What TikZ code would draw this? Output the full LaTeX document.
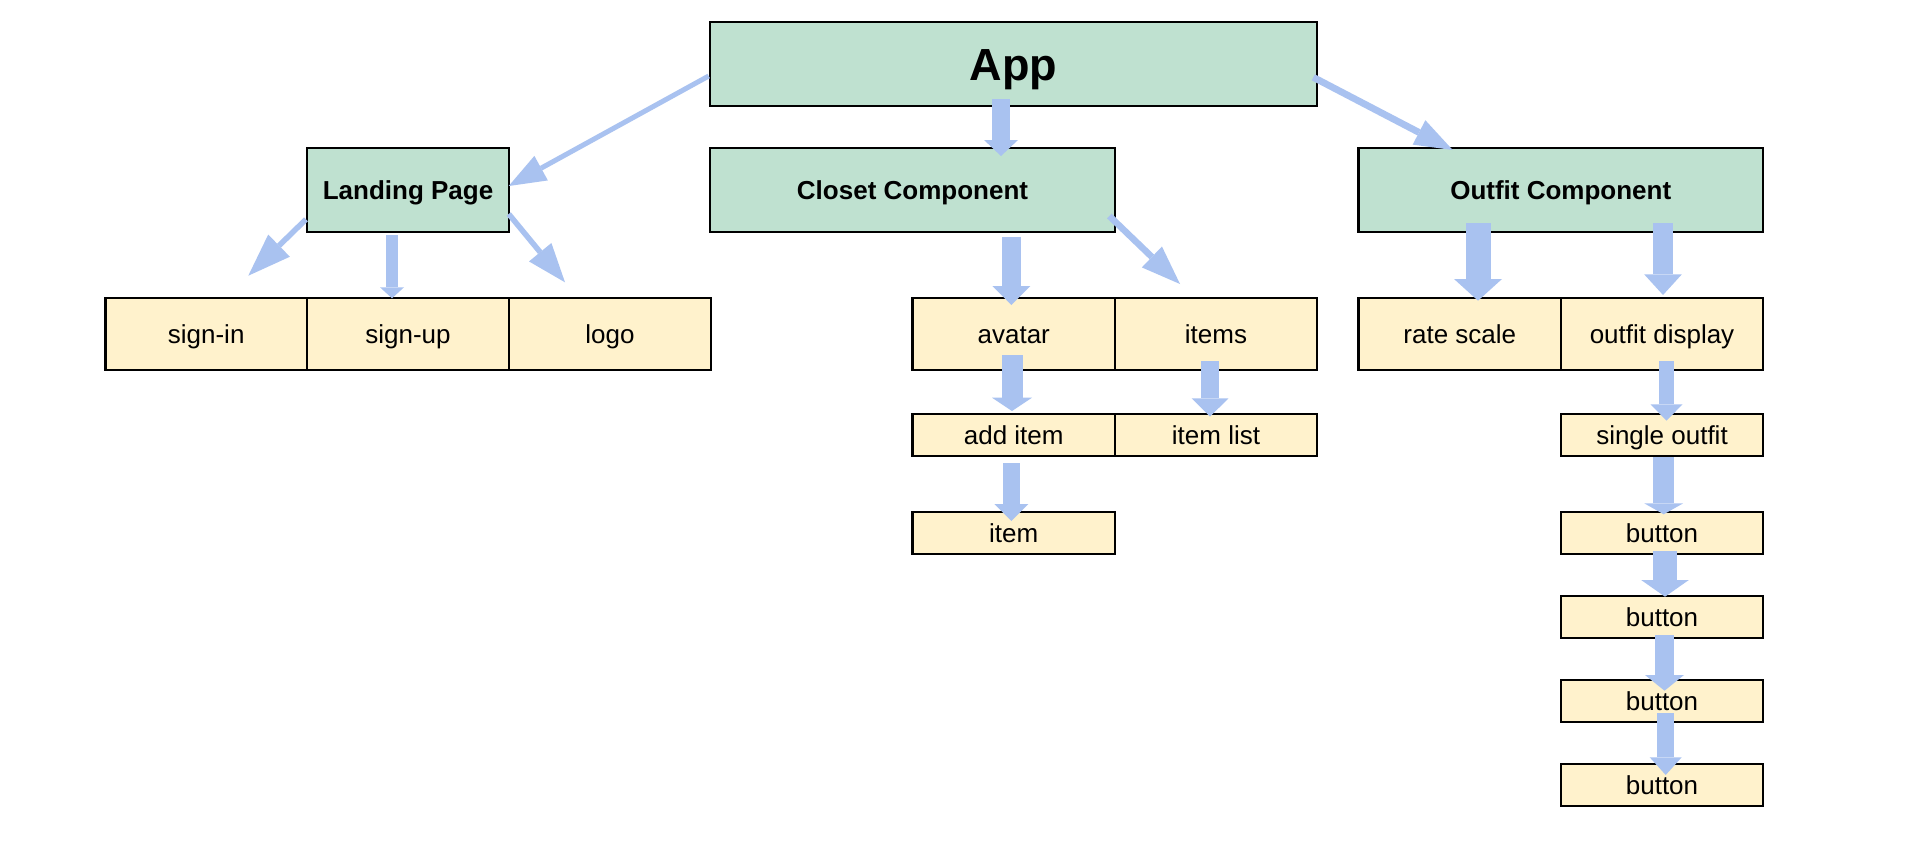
\documentclass[tikz,border=0pt]{standalone}
\usepackage{fontspec}
\setmainfont{Liberation Sans}
\usetikzlibrary{arrows.meta,calc}
\definecolor{boxgreen}{HTML}{BFE1D0}
\definecolor{boxyellow}{HTML}{FFF2CC}
\definecolor{arrowblue}{HTML}{A9C2F0}
\tikzset{
  box/.style={draw=black, line width=2.5pt, rectangle, inner sep=0pt, outer sep=0pt,
    text height=18.6pt, text depth=0pt, font=\fontsize{26}{31}\selectfont},
  gbox/.style={box, fill=boxgreen, font=\fontsize{26}{31}\selectfont\bfseries},
  ybox/.style={box, fill=boxyellow},
  bigbox/.style={box, fill=boxgreen, text height=32.2pt, font=\fontsize{45}{54}\selectfont\bfseries},
  conn/.style n args={3}{draw=arrowblue, line width=#1pt,
    -{Triangle[length=#2pt,width=#3pt,line width=0pt]}},
}
\begin{document}
\begin{tikzpicture}[x=1pt,y=-1pt]
\fill[white] (0,0) rectangle (1932,852);
\useasboundingbox (0,0) rectangle (1932,852);

% top level
\node[bigbox, minimum width=607pt, minimum height=84pt] (app) at (1013.5,64) {App};
\node[gbox, minimum width=202pt, minimum height=84pt] (landing) at (408,190) {Landing Page};
\node[gbox, minimum width=405pt, minimum height=84pt] (closet) at (912.5,190) {Closet Component};
\node[gbox, minimum width=404.5pt, minimum height=84pt] (outfit) at (1560.75,190) {Outfit Component};

% second row
\node[ybox, minimum width=201.6pt, minimum height=72pt] (signin) at (206.2,334) {sign-in};
\node[ybox, minimum width=202pt, minimum height=72pt] (signup) at (408,334) {sign-up};
\node[ybox, minimum width=202pt, minimum height=72pt] (logo) at (610,334) {logo};
\node[ybox, minimum width=202.5pt, minimum height=72pt] (avatar) at (1013.75,334) {avatar};
\node[ybox, minimum width=202pt, minimum height=72pt] (items) at (1216,334) {items};
\node[ybox, minimum width=202.5pt, minimum height=72pt] (rate) at (1459.75,334) {rate scale};
\node[ybox, minimum width=202pt, minimum height=72pt] (display) at (1662,334) {outfit display};

% lower rows
\node[ybox, minimum width=202.5pt, minimum height=42.3pt] (additem) at (1013.75,435) {add item};
\node[ybox, minimum width=202pt, minimum height=42.3pt] (itemlist) at (1216,435) {item list};
\node[ybox, minimum width=202.5pt, minimum height=42.3pt] (item) at (1013.75,533) {item};
\node[ybox, minimum width=202pt, minimum height=42.3pt] (single) at (1662,435) {single outfit};
\node[ybox, minimum width=202pt, minimum height=42.3pt] (b1) at (1662,533) {button};
\node[ybox, minimum width=202pt, minimum height=42.3pt] (b2) at (1662,617) {button};
\node[ybox, minimum width=202pt, minimum height=42.3pt] (b3) at (1662,701) {button};
\node[ybox, minimum width=202pt, minimum height=42.3pt] (b4) at (1662,785) {button};

% diagonal connectors
\draw[conn={5}{37}{28}] ($(app.west)+(-1.3,12)$) -- ($(landing.east)+(-0.3,-4)$);
\draw[conn={5.5}{43}{31}] ($(landing.west)+(-1,29.3)$) -- ($(signin.north)+(42.1,-22.3)$);
\draw[conn={5.5}{39}{29}] ($(landing.east)+(-0.3,24)$) -- ($(logo.north)+(-45,-15.7)$);
\draw[conn={6.5}{39}{29}] ($(closet.east)+(-5.7,26)$) -- ($(items.north west)+(65,-14)$);
\draw[conn={6.8}{38}{27.5}] ($(app.east)+(-3.7,13.3)$) -- ($(outfit.north west)+(94.2,2)$);

% block connectors
\draw[conn={17.7}{16}{34}] ($(app.south)+(-12.5,-6.7)$) -- ($(closet.north)+(88.5,8)$);
\draw[conn={12.3}{11}{24}] ($(landing.south)+(-16,3)$) -- ($(signup.north)+(-16,0.3)$);
\draw[conn={19.3}{19}{38}] ($(closet.south)+(98.8,4.7)$) -- ($(avatar.north)+(-2.45,7)$);
\draw[conn={25}{21.7}{48}] ($(outfit.south)+(-82.75,-8.7)$) -- ($(rate.north)+(18.25,2.7)$);
\draw[conn={19.3}{20.7}{37.7}] ($(outfit.south)+(102.25,-8.7)$) -- ($(display.north)+(1,-3)$);
\draw[conn={21}{13.3}{40}] ($(avatar.south)+(-1.75,-15)$) -- ($(additem.north)+(-1.75,-2.85)$);
\draw[conn={18.7}{18.3}{36.7}] ($(items.south)+(-6,-9)$) -- ($(itemlist.north)+(-6,2.85)$);
\draw[conn={17.3}{17}{34}] ($(additem.south)+(-2.45,7.15)$) -- ($(item.north)+(-2.45,9.15)$);
\draw[conn={15}{16.4}{32}] ($(display.south)+(4.5,-9)$) -- ($(single.north)+(4.5,6.85)$);
\draw[conn={20.7}{11}{39}] ($(single.south)+(1.7,1.15)$) -- ($(b1.north)+(1.7,2.45)$);
\draw[conn={23.3}{16.7}{47.7}] ($(b1.south)+(3,-3.15)$) -- ($(b2.north)+(3,0.85)$);
\draw[conn={19}{15.7}{39}] ($(b2.south)+(2.5,-3.15)$) -- ($(b3.north)+(2.5,10.85)$);
\draw[conn={16.7}{17.7}{32}] ($(b3.south)+(3.7,-8.85)$) -- ($(b4.north)+(3.7,11.15)$);
\end{tikzpicture}
\end{document}
